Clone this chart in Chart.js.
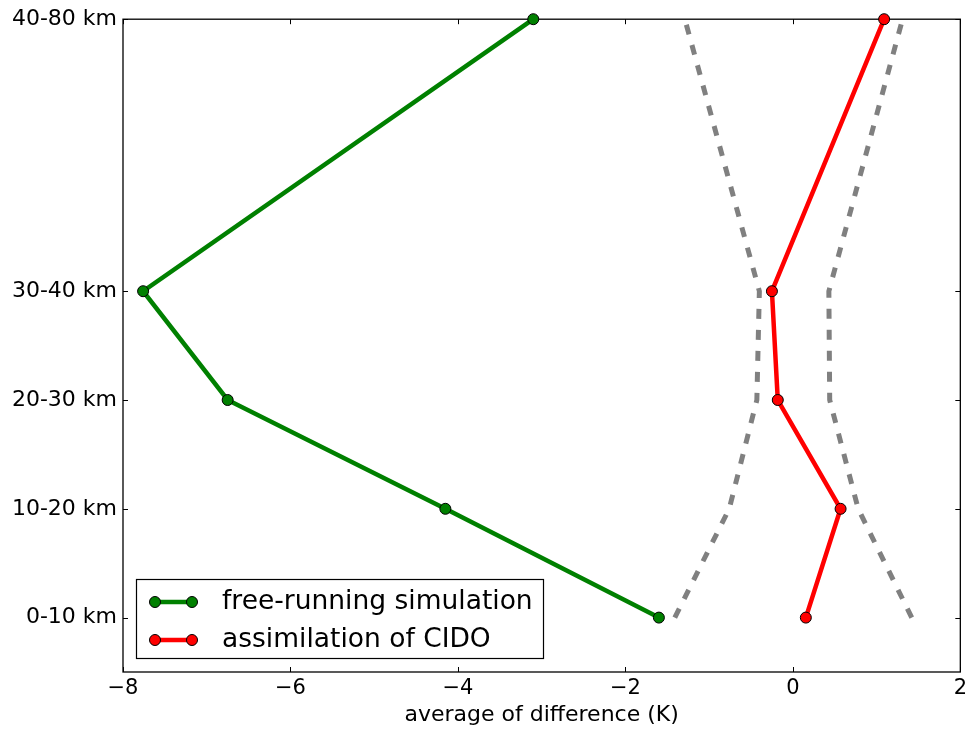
<!DOCTYPE html>
<html>
<head>
<meta charset="utf-8">
<script src="https://cdn.jsdelivr.net/npm/chart.js@4"></script>
<style>
html,body{margin:0;padding:0;background:#fff;}
#wrap{width:971px;height:731px;}
</style>
</head>
<body>
<div id="wrap"><canvas id="c" width="971" height="731"></canvas></div>
<script>
// ---- data ----
const categories = ['0-10 km', '10-20 km', '20-30 km', '30-40 km', '40-80 km'];
const levelKm = [5, 15, 25, 35, 60];
const freeRunning = [-1.60, -4.15, -6.75, -7.76, -3.10];
const assimilation = [0.155, 0.57, -0.18, -0.25, 1.09];
const boundLow = [-1.41, -0.76, -0.43, -0.40, -1.29];
const boundHigh = [1.42, 0.78, 0.44, 0.43, 1.31];
const xTicks = [-8, -6, -4, -2, 0, 2];
const seriesNames = ['free-running simulation', 'assimilation of CIDO'];

const FONT = 'DejaVu Sans';
const pts = arr => arr.map((v, i) => ({x: v, y: levelKm[i]}));

const framePlugin = {
  id: 'frame',
  beforeDatasetsDraw(chart) {
    const {ctx, chartArea: a, scales} = chart;
    ctx.save();
    ctx.strokeStyle = '#000';
    ctx.lineWidth = 1.3;
    ctx.strokeRect(a.left, a.top, a.right - a.left, a.bottom - a.top);
    ctx.lineWidth = 1;
    const L = 5;
    ctx.beginPath();
    scales.x.ticks.forEach(t => {
      const px = Math.round(scales.x.getPixelForValue(t.value)) + 0.5;
      ctx.moveTo(px, a.bottom); ctx.lineTo(px, a.bottom - L);
      ctx.moveTo(px, a.top); ctx.lineTo(px, a.top + L);
    });
    scales.y.ticks.forEach(t => {
      const py = Math.round(scales.y.getPixelForValue(t.value)) + 0.5;
      ctx.moveTo(a.left, py); ctx.lineTo(a.left + L, py);
      ctx.moveTo(a.right, py); ctx.lineTo(a.right - L, py);
    });
    ctx.stroke();
    ctx.restore();
  }
};

const legendPlugin = {
  id: 'boxLegend',
  afterDraw(chart) {
    const {ctx, chartArea: a} = chart;
    const items = chart.data.datasets.filter(d => d.label);
    const x0 = a.left + 13, y1 = a.bottom - 14;
    const w = 407, h = 79;
    const y0 = y1 - h;
    ctx.save();
    ctx.fillStyle = '#fff';
    ctx.fillRect(x0, y0, w, h);
    ctx.strokeStyle = '#000';
    ctx.lineWidth = 1.2;
    ctx.strokeRect(x0 + 0.5, y0 + 0.5, w, h);
    ctx.font = '26.5px "' + FONT + '"';
    ctx.textBaseline = 'middle';
    items.forEach((d, i) => {
      const cy = y0 + 23 + i * 38;
      ctx.strokeStyle = d.borderColor;
      ctx.lineWidth = 4.5;
      ctx.beginPath();
      ctx.moveTo(x0 + 19, cy); ctx.lineTo(x0 + 56, cy);
      ctx.stroke();
      [x0 + 19, x0 + 56].forEach(px => {
        ctx.beginPath();
        ctx.arc(px, cy, 5.5, 0, Math.PI * 2);
        ctx.fillStyle = d.pointBackgroundColor;
        ctx.fill();
        ctx.lineWidth = 1;
        ctx.strokeStyle = '#000';
        ctx.stroke();
      });
      ctx.fillStyle = '#000';
      ctx.fillText(d.label, x0 + 86, cy);
    });
    ctx.restore();
  }
};

const dashed = (arr) => ({
  label: '',
  data: pts(arr),
  showLine: true,
  borderColor: '#808080',
  borderWidth: 5,
  borderDash: [10, 11],
  pointRadius: 0,
  pointHoverRadius: 0,
  fill: false,
  clip: false,
  tension: 0
});

const solid = (label, arr, color) => ({
  label: label,
  data: pts(arr),
  showLine: true,
  borderColor: color,
  borderWidth: 4.5,
  pointRadius: 5.5,
  pointBackgroundColor: color,
  pointBorderColor: '#000',
  pointBorderWidth: 1,
  fill: false,
  clip: false,
  tension: 0
});

new Chart(document.getElementById('c'), {
  type: 'scatter',
  data: {
    datasets: [
      dashed(boundLow),
      dashed(boundHigh),
      solid(seriesNames[0], freeRunning, '#008000'),
      solid(seriesNames[1], assimilation, '#ff0000')
    ]
  },
  options: {
    responsive: false,
    animation: false,
    layout: {padding: {top: 19, right: 10, bottom: 0, left: 0}},
    plugins: {legend: {display: false}, tooltip: {enabled: false}},
    scales: {
      x: {
        type: 'linear',
        min: -8, max: 2,
        afterBuildTicks: s => { s.ticks = xTicks.map(v => ({value: v})); },
        afterFit: s => { s.height = 59; },
        ticks: {
          color: '#000',
          font: {family: FONT, size: 21},
          padding: 4,
          maxRotation: 0,
          callback: v => v < 0 ? '\u2212' + Math.abs(v) : String(v)
        },
        grid: {display: false, drawTicks: false},
        border: {display: false},
        title: {display: true, text: 'average of difference (K)', color: '#000',
                font: {family: FONT, size: 22}, padding: {top: 0, bottom: 3}}
      },
      y: {
        type: 'linear',
        min: 0, max: 60,
        afterBuildTicks: s => { s.ticks = levelKm.map(v => ({value: v})); },
        afterFit: s => { s.width = 123; },
        ticks: {
          color: '#000',
          font: {family: FONT, size: 22},
          padding: 6,
          callback: v => categories[levelKm.indexOf(v)]
        },
        grid: {display: false, drawTicks: false},
        border: {display: false}
      }
    }
  },
  plugins: [framePlugin, legendPlugin]
});
</script>
</body>
</html>
